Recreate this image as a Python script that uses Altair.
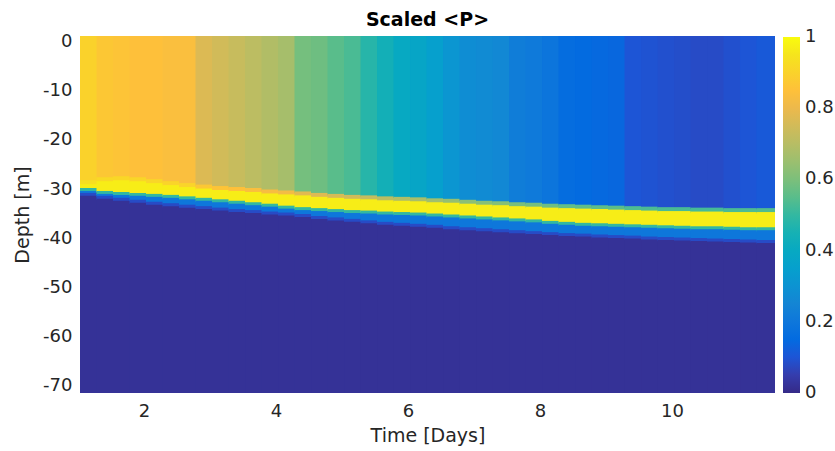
import altair as alt
import pandas as pd

# ---- data ----
TIME_EDGES = [1.03, 1.28, 1.53, 1.78, 2.03, 2.28, 2.53, 2.78, 3.03, 3.28, 3.53,
              3.78, 4.03, 4.28, 4.53, 4.78, 5.03, 5.28, 5.53, 5.78, 6.03, 6.28,
              6.53, 6.78, 7.03, 7.28, 7.53, 7.78, 8.03, 8.28, 8.53, 8.78, 9.03,
              9.28, 9.53, 9.78, 10.03, 10.28, 10.53, 10.78, 11.03, 11.28, 11.56]

# scaled <P> in the mixed layer above the band
UPPER = [0.90, 0.87, 0.86, 0.85, 0.85, 0.84, 0.84, 0.77, 0.75, 0.73, 0.71,
         0.69, 0.67, 0.59, 0.58, 0.55, 0.53, 0.48, 0.44, 0.40, 0.38, 0.35,
         0.31, 0.28, 0.27, 0.26, 0.22, 0.21, 0.19, 0.16, 0.15, 0.145, 0.14,
         0.10, 0.095, 0.09, 0.085, 0.08, 0.08, 0.09, 0.10, 0.11]

# depth [m] of the top / bottom of the bright band, and start of the deep layer
BAND_TOP = [-29.0, -28.4, -28.2, -28.4, -28.8, -29.2, -29.6, -29.9, -30.2, -30.4,
            -30.6, -30.9, -31.1, -31.3, -31.6, -31.8, -32.0, -32.1, -32.3, -32.4,
            -32.5, -32.7, -32.8, -33.0, -33.2, -33.3, -33.5, -33.6, -33.8, -33.9,
            -34.0, -34.1, -34.2, -34.3, -34.4, -34.5, -34.5, -34.6, -34.6, -34.7,
            -34.7, -34.7]
BAND_BOTTOM = [-29.8, -30.4, -30.6, -30.8, -31.0, -31.2, -31.5, -31.8, -32.1, -32.4,
               -32.7, -33.0, -33.4, -33.7, -33.9, -34.1, -34.3, -34.4, -34.6, -34.7,
               -34.8, -35.0, -35.2, -35.4, -35.6, -35.8, -36.0, -36.2, -36.5, -36.7,
               -36.9, -37.0, -37.1, -37.2, -37.3, -37.4, -37.5, -37.6, -37.6, -37.7,
               -37.8, -37.8]
DEEP_TOP = [-30.8, -31.4, -31.8, -32.2, -32.6, -32.9, -33.2, -33.5, -33.8, -34.1,
            -34.3, -34.6, -34.8, -35.1, -35.5, -35.8, -36.1, -36.4, -36.7, -36.9,
            -37.1, -37.3, -37.6, -37.8, -38.0, -38.2, -38.4, -38.6, -38.8, -39.0,
            -39.1, -39.3, -39.4, -39.5, -39.7, -39.8, -39.9, -40.0, -40.1, -40.2,
            -40.3, -40.4]

BAND_VALUE = 0.97
BELOW_BAND_VALUE = 0.5
TRANSITION_VALUE = 0.2
DEEP_EDGE_VALUE = 0.08
DEEP_VALUE = 0.02
SURFACE = 1.2
BOTTOM = -71.6

Y_TICKS = [-70, -60, -50, -40, -30, -20, -10, 0]
X_TICKS = [2, 4, 6, 8, 10]
CBAR_TICKS = [0, 0.2, 0.4, 0.6, 0.8, 1]

# parula colormap stops
CMAP_STOPS = [-0.001, 0.05, 0.1, 0.15, 0.2, 0.25, 0.3, 0.35, 0.4, 0.45, 0.5,
              0.55, 0.6, 0.65, 0.7, 0.75, 0.8, 0.85, 0.9, 0.95, 1.001]
CMAP_COLORS = ["#352A87", "#353DAD", "#1D55D6", "#036BE0", "#0E77DB", "#1485D4",
               "#0C93D2", "#06A0CD", "#07A9C2", "#16B1B4", "#33B8A1", "#59BD8B",
               "#7CBF7B", "#9BBF6F", "#B7BD64", "#D1BB59", "#ECB94C", "#FEC03A",
               "#FAD22B", "#F5E41D", "#F9FB0E"]

# small overlaps between neighbouring cells hide anti-aliasing seams
X_OVERLAP = 0.02
Y_OVERLAP = 0.25

rows = []
n = len(UPPER)
for i in range(n):
    t0 = TIME_EDGES[i]
    t1 = TIME_EDGES[i + 1] + (X_OVERLAP if i < n - 1 else 0.0)
    u, bt, bb, dk = UPPER[i], BAND_TOP[i], BAND_BOTTOM[i], DEEP_TOP[i]
    segs = [
        (SURFACE, bt + 0.8, u),
        (bt + 0.8, bt, (u + BAND_VALUE) / 2),
        (bt, bb, BAND_VALUE),
        (bb, bb - 0.6, BELOW_BAND_VALUE),
        (bb - 0.6, dk, TRANSITION_VALUE),
        (dk, dk - 0.6, DEEP_EDGE_VALUE),
        (dk - 0.6, BOTTOM, DEEP_VALUE),
    ]
    for k, (d0, d1, v) in enumerate(segs):
        d1x = d1 - (Y_OVERLAP if k < len(segs) - 1 else 0.0)
        rows.append({"t0": t0, "t1": t1, "d0": d0, "d1": d1x, "value": v})
df = pd.DataFrame(rows)

FONT = "DejaVu Sans"
GRAY = "#262626"

cscale = alt.Scale(domain=CMAP_STOPS, range=CMAP_COLORS, interpolate="rgb", clamp=True)

chart = alt.Chart(df).mark_rect(strokeWidth=0).encode(
    x=alt.X("t0:Q",
            scale=alt.Scale(domain=[1.03, 11.56], nice=False, zero=False),
            axis=alt.Axis(title="Time [Days]", values=X_TICKS, grid=False,
                          domain=False, ticks=False, tickSize=0,
                          labelPadding=9, titlePadding=6,
                          labelFont=FONT, labelFontSize=18, labelColor=GRAY,
                          titleFont=FONT, titleFontSize=19, titleColor=GRAY,
                          titleFontWeight="normal")),
    x2="t1:Q",
    y=alt.Y("d0:Q",
            scale=alt.Scale(domain=[BOTTOM, SURFACE], nice=False, zero=False),
            axis=alt.Axis(title="Depth [m]", values=Y_TICKS, grid=False,
                          domain=False, ticks=False, tickSize=0,
                          labelPadding=8, titlePadding=10,
                          labelExpr="datum.value + ''",
                          labelFont=FONT, labelFontSize=18, labelColor=GRAY,
                          titleFont=FONT, titleFontSize=19, titleColor=GRAY,
                          titleFontWeight="normal")),
    y2="d1:Q",
    color=alt.Color("value:Q", scale=cscale,
                    legend=alt.Legend(title=None, orient="none",
                                      legendX=703, legendY=1,
                                      direction="vertical",
                                      gradientLength=356,
                                      gradientThickness=17,
                                      gradientStrokeWidth=0,
                                      values=CBAR_TICKS,
                                      labelExpr="datum.value + ''",
                                      labelFontSize=18, labelFont=FONT,
                                      labelColor=GRAY, labelOffset=5,
                                      labelOverlap=False)),
).properties(
    width=695,
    height=357,
    title=alt.TitleParams("Scaled <P>", font=FONT, fontSize=19,
                          fontWeight="bold", color="#000000",
                          anchor="middle", offset=3),
    autosize=alt.AutoSizeParams(type="none"),
    padding={"left": 80, "top": 36, "right": 60, "bottom": 58},
).configure_view(
    stroke=None
)

chart.save("out.html", embed_options={"renderer": "svg", "actions": False})
